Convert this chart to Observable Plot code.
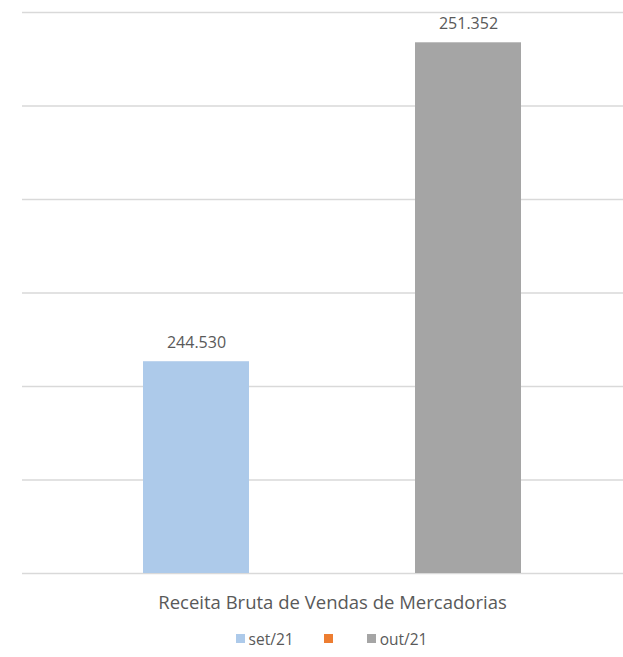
<!DOCTYPE html>
<html>
<head>
<meta charset="utf-8">
<script src="https://cdn.jsdelivr.net/npm/d3@7"></script>
<script src="https://cdn.jsdelivr.net/npm/@observablehq/plot@0.6"></script>
<style>
  body { margin: 0; background: #fff; font-family: "Open Sans", sans-serif; }
  #chart { width: 623px; }
  .legend { display: flex; justify-content: center; align-items: center; height: 37px; font-size: 15.5px; color: #595959; padding-left: 40px; }
  .legend .item { display: flex; align-items: center; margin: 0 15px; }
  .legend .sw { width: 9px; height: 9px; margin-right: 4px; }
</style>
</head>
<body>
<div id="chart"></div>
<script>
const category = "Receita Bruta de Vendas de Mercadorias";
const series = ["set/21", "", "out/21"];
const values = [244530, null, 251352];
const colors = ["#ADCAEA", "#ED7D31", "#A5A5A5"];
const yTicks = [240000, 242000, 244000, 246000, 248000, 250000, 252000];

const data = series.map((s, i) => ({series: s, value: values[i]})).filter(d => d.value != null);
const fmt = d => d3.format(",")(d).replace(/,/g, ".");

const chart = Plot.plot({
  width: 623,
  height: 620,
  marginTop: 12,
  marginBottom: 47,
  marginLeft: 22,
  marginRight: 0,
  style: {fontFamily: "Open Sans, sans-serif", color: "#595959", background: "#fff"},
  x: {domain: series, range: [127, 537.5], paddingInner: 0.218, paddingOuter: 0.109, axis: null, label: null},
  y: {domain: [240000, 252000], axis: null, label: null},
  color: {domain: series, range: colors},
  marks: [
    Plot.ruleY(yTicks, {stroke: "#D9D9D9", strokeWidth: 1.3}),
    Plot.barY(data, {x: "series", y1: 240000, y2: "value", fill: "series"}),
    Plot.text(data, {x: "series", y: "value", text: d => fmt(d.value), dy: -19, fontSize: 16, fill: "#595959"}),
    Plot.axisX({tickSize: 0, tickPadding: 22, fontSize: 18.5, fill: "#595959", label: null, tickFormat: d => d === series[1] ? category : ""}),
  ]
});
document.getElementById("chart").appendChild(chart);

const legend = document.createElement("div");
legend.className = "legend";
series.forEach((s, i) => {
  const item = document.createElement("div");
  item.className = "item";
  const sw = document.createElement("span");
  sw.className = "sw";
  sw.style.background = colors[i];
  item.appendChild(sw);
  const t = document.createElement("span");
  t.textContent = s;
  item.appendChild(t);
  legend.appendChild(item);
});
document.getElementById("chart").appendChild(legend);
</script>
</body>
</html>
